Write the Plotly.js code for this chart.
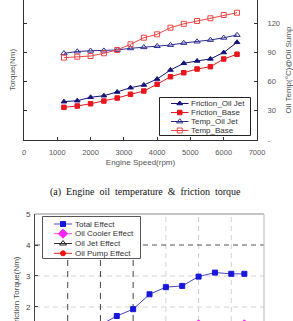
<!DOCTYPE html>
<html>
<head>
<meta charset="utf-8">
<script src="https://cdn.plot.ly/plotly-3.0.1.min.js"></script>
<style>
  html, body { margin: 0; padding: 0; background: #fff; }
  #chart { width: 293px; height: 321px; }
</style>
</head>
<body>
<div id="chart"></div>
<script>
// (a) engine speed sweep: friction torque (left axis) and sump oil temperature (right axis)
const rpm = [1200, 1600, 2000, 2400, 2800, 3200, 3600, 4000, 4400, 4800, 5200, 5600, 6000, 6400];
const frictionOilJet = [6.57, 6.74, 7.32, 7.60, 8.23, 8.97, 9.43, 10.45, 12.00, 13.15, 13.55, 13.90, 15.00, 16.75];
const frictionBase   = [5.60, 5.83, 6.22, 6.68, 7.20, 7.83, 8.40, 9.55, 10.85, 11.53, 12.17, 12.57, 13.88, 14.70];
const tempOilJet = [89.2, 91.0, 91.8, 91.9, 92.6, 94.3, 95.4, 96.5, 97.7, 99.8, 101.2, 102.9, 105.1, 108.0];
const tempBase   = [84.7, 85.7, 86.4, 89.2, 92.6, 98.4, 105.2, 108.7, 115.5, 119.5, 122.4, 125.2, 128.6, 130.9];
const tempTickVals = [0, 30, 60, 90, 120];
const tempTickText = ['-', '30', '60', '90', '120'];
const seriesNamesA = ['Friction_Oil Jet', 'Friction_Base', 'Temp_Oil Jet', 'Temp_Base'];
const captionA = '(a)  Engine  oil  temperature  &  friction  torque';

// (b) friction torque reduction by measure
const effRpm = [1000, 1500, 2000, 2500, 3000, 3500, 4000, 4500, 5000, 5500, 6000, 6400];
const totalEffect     = [0.90, 1.15, 1.42, 1.71, 1.93, 2.41, 2.64, 2.68, 2.98, 3.11, 3.07, 3.07];
const oilCoolerEffect = [0.30, 0.40, 0.50, 0.60, 0.75, 0.90, 1.00, 1.10, 1.44, 1.30, 1.35, 1.44];
const oilJetEffect    = [0.30, 0.35, 0.40, 0.50, 0.55, 0.60, 0.65, 0.70, 0.75, 0.80, 0.85, 0.90];
const oilPumpEffect   = [0.30, 0.40, 0.52, 0.61, 0.63, 0.91, 0.99, 0.88, 0.79, 1.01, 0.87, 0.73];
const seriesNamesB = ['Total Effect', 'Oil Cooler Effect', 'Oil Jet Effect', 'Oil Pump Effect'];
const torqueTicks = [2, 3, 4, 5];
const gridRpmLight = [4000, 5000, 6000];
const gridRpmDark = [1000, 2000, 3000];
const gridTorqueLight = [2, 3];
const gridTorqueDark = [4];

const W = 293, H = 321;
const FONT = 'Arial, "Liberation Sans", sans-serif';

const styleA = [
  { color: '#14147c', symbol: 'triangle-up', size: 5 },
  { color: '#e8161e', symbol: 'square', size: 4.5 },
  { color: '#2c2c92', symbol: 'triangle-up-open', size: 5.5 },
  { color: '#f04444', symbol: 'square-open', size: 5 }
];
const styleB = [
  { color: '#1616dc', line: '#4646cc', symbol: 'square', size: 5 },
  { color: '#ff22ff', line: '#ff44ff', symbol: 'diamond', size: 7 },
  { color: '#222222', line: '#333333', symbol: 'triangle-up-open', size: 6 },
  { color: '#ee1111', line: '#ee2222', symbol: 'circle', size: 5 }
];

function seriesTrace(x, y, name, st, xa, ya) {
  return {
    type: 'scatter', mode: 'lines+markers', x: x, y: y, name: name,
    xaxis: xa, yaxis: ya, showlegend: false, hoverinfo: 'skip',
    line: { color: st.line || st.color, width: 1 },
    marker: { color: st.color, symbol: st.symbol, size: st.size, line: { color: st.color, width: 1 } }
  };
}

const traces = [
  seriesTrace(rpm, frictionOilJet, seriesNamesA[0], styleA[0], 'x', 'y'),
  seriesTrace(rpm, frictionBase, seriesNamesA[1], styleA[1], 'x', 'y'),
  seriesTrace(rpm, tempOilJet, seriesNamesA[2], styleA[2], 'x', 'y2'),
  seriesTrace(rpm, tempBase, seriesNamesA[3], styleA[3], 'x', 'y2'),
  seriesTrace(effRpm, totalEffect, seriesNamesB[0], styleB[0], 'x3', 'y3'),
  seriesTrace(effRpm, oilCoolerEffect, seriesNamesB[1], styleB[1], 'x3', 'y3'),
  seriesTrace(effRpm, oilJetEffect, seriesNamesB[2], styleB[2], 'x3', 'y3'),
  seriesTrace(effRpm, oilPumpEffect, seriesNamesB[3], styleB[3], 'x3', 'y3')
];

// Hand-built legends on a page-sized overlay (pixel units, y downward)
const annotations = [];
function legendBox(x0, y0, x1, y1, border) {
  traces.push({
    type: 'scatter', mode: 'lines', xaxis: 'x4', yaxis: 'y4', showlegend: false, hoverinfo: 'skip',
    x: [x0, x1, x1, x0, x0], y: [y0, y0, y1, y1, y0],
    fill: 'toself', fillcolor: '#ffffff', line: { color: border, width: 1 }
  });
}
function legendEntry(name, st, rowY, lx0, lx1, tx) {
  traces.push({
    type: 'scatter', mode: 'lines', xaxis: 'x4', yaxis: 'y4', showlegend: false, hoverinfo: 'skip',
    x: [lx0, lx1], y: [rowY, rowY], line: { color: st.line || st.color, width: 1 }
  });
  traces.push({
    type: 'scatter', mode: 'markers', xaxis: 'x4', yaxis: 'y4', showlegend: false, hoverinfo: 'skip',
    x: [(lx0 + lx1) / 2], y: [rowY],
    marker: { color: st.color, symbol: st.symbol, size: st.size, line: { color: st.color, width: 1 } }
  });
  annotations.push({
    xref: 'x4', yref: 'y4', x: tx, y: rowY, text: name, showarrow: false,
    xanchor: 'left', yanchor: 'middle', font: { family: FONT, size: 8, color: '#333' }
  });
}

legendBox(159.5, 97.5, 250.5, 135.5, '#222');
[103.5, 112.5, 121.5, 130.5].forEach((r, i) => legendEntry(seriesNamesA[i], styleA[i], r, 171, 188.5, 189));

legendBox(42.5, 216.5, 140.5, 258.5, '#555');
[224, 233.7, 243.5, 253.3].forEach((r, i) => legendEntry(seriesNamesB[i], styleB[i], r, 54, 72, 72.5));

annotations.push({
  xref: 'paper', yref: 'paper', x: 145.5 / W, y: 1 - 192 / H, text: captionA, showarrow: false,
  xanchor: 'center', yanchor: 'middle',
  font: { family: '"Liberation Serif", "Times New Roman", serif', size: 10, color: '#111' }
});
annotations.push({
  xref: 'paper', yref: 'paper', x: 16 / W, y: 1 - 292 / H, text: 'Friction Torque(Nm)', showarrow: false,
  textangle: -90, xanchor: 'center', yanchor: 'middle', font: { family: FONT, size: 8, color: '#444' }
});

// Grid of panel (b): light dashed lines, with a darker dashed set
const shapes = [];
function vLine(v, color, dash) {
  shapes.push({ type: 'line', layer: 'below', xref: 'x3', yref: 'y3 domain', x0: v, x1: v, y0: 0, y1: 1,
    line: { color: color, width: 1, dash: dash } });
}
function hLine(v, color, dash) {
  shapes.push({ type: 'line', layer: 'below', xref: 'x3 domain', yref: 'y3', x0: 0, x1: 1, y0: v, y1: v,
    line: { color: color, width: 1, dash: dash } });
}
gridRpmLight.forEach(v => vLine(v, '#d2d2d2', '5px,4px'));
gridTorqueLight.forEach(v => hLine(v, '#d2d2d2', '5px,4px'));
gridRpmDark.forEach(v => vLine(v, '#444444', '6px,5px'));
gridTorqueDark.forEach(v => hLine(v, '#555555', '5px,4px'));
shapes.push({ type: 'line', layer: 'below', xref: 'x3 domain', yref: 'y3 domain', x0: 0, x1: 1, y0: 1, y1: 1,
  line: { color: '#8a8a8a', width: 1 } });
shapes.push({ type: 'line', layer: 'below', xref: 'x3 domain', yref: 'y3 domain', x0: 1, x1: 1, y0: 0, y1: 1,
  line: { color: '#bbbbbb', width: 1 } });

const tickFont = { family: FONT, size: 7.5, color: '#555' };
const titleFont = { family: FONT, size: 8, color: '#555' };

const layout = {
  width: W, height: H,
  margin: { l: 0, r: 0, t: 0, b: 0 },
  paper_bgcolor: '#ffffff', plot_bgcolor: 'rgba(0,0,0,0)',
  showlegend: false,
  xaxis: {
    domain: [24 / W, 257 / W], range: [0, 7000], dtick: 1000, anchor: 'y',
    ticks: 'inside', ticklen: 3, tickcolor: '#333', showline: true, linecolor: '#333', linewidth: 1,
    showgrid: false, zeroline: false, tickfont: tickFont, ticklabelstandoff: 5,
    title: { text: 'Engine Speed(rpm)', font: titleFont, standoff: 3 }
  },
  yaxis: {
    domain: [1 - 140 / H, 1], range: [0, 24], dtick: 5, anchor: 'x',
    ticks: 'inside', ticklen: 3, tickcolor: '#333', showline: true, linecolor: '#333', linewidth: 1,
    showticklabels: false, showgrid: false, zeroline: false,
    title: { text: 'Torque(Nm)', font: titleFont, standoff: 6 }
  },
  yaxis2: {
    overlaying: 'y', side: 'right', anchor: 'x', range: [0, 144],
    tickmode: 'array', tickvals: tempTickVals, ticktext: tempTickText,
    ticks: 'inside', ticklen: 3, tickcolor: '#333', showline: true, linecolor: '#333', linewidth: 1,
    showgrid: false, zeroline: false, tickfont: tickFont, ticklabelstandoff: 8,
    title: { text: 'Oil Temp(\u00b0C)@Oil Sump', font: titleFont, standoff: 6 }
  },
  xaxis3: {
    domain: [35 / W, 264 / W], range: [0, 7000], anchor: 'y3',
    showticklabels: false, ticks: '', showline: false, zeroline: false, showgrid: false
  },
  yaxis3: {
    domain: [0, 1 - 214 / H], range: [1.548, 5], anchor: 'x3',
    tickmode: 'array', tickvals: torqueTicks,
    ticks: 'inside', ticklen: 3, tickcolor: '#444', showline: true, linecolor: '#444', linewidth: 1,
    showgrid: false, zeroline: false,
    tickfont: { family: FONT, size: 8, color: '#444' }, ticklabelstandoff: 2
  },
  xaxis4: { domain: [0, 1], range: [0, W], anchor: 'y4', visible: false, fixedrange: true },
  yaxis4: { domain: [0, 1], range: [H, 0], anchor: 'x4', visible: false, fixedrange: true },
  shapes: shapes,
  annotations: annotations
};

Plotly.newPlot('chart', traces, layout, { staticPlot: true, displayModeBar: false });
</script>
</body>
</html>
